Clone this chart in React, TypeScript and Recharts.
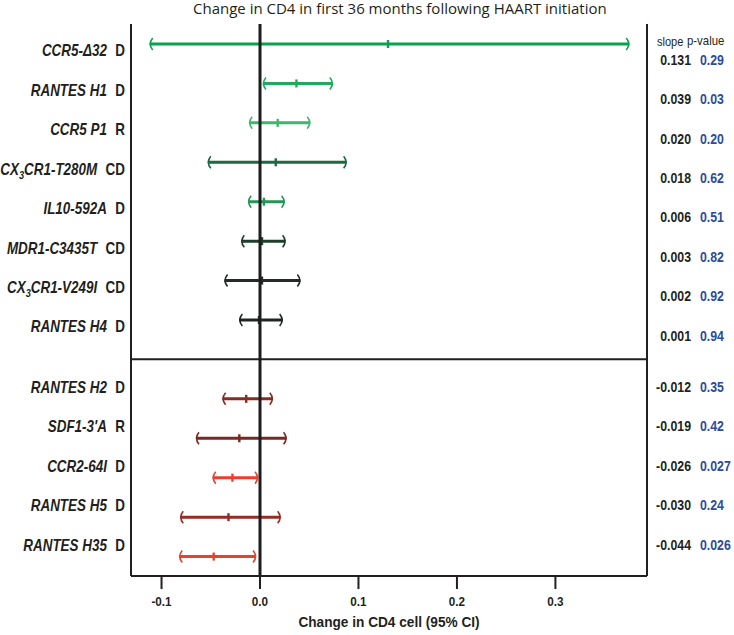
import React from "react";
import { ComposedChart, Bar, XAxis, YAxis, ReferenceLine } from "recharts";

// gene / model rows, top to bottom (first 8 are positive slopes, then negative)
const genes = [
  "CCR5-Δ32", "RANTES H1", "CCR5 P1", "CX3CR1-T280M", "IL10-592A", "MDR1-C3435T", "CX3CR1-V249I", "RANTES H4",
  "RANTES H2", "SDF1-3'A", "CCR2-64I", "RANTES H5", "RANTES H35",
];
const models = ["D", "D", "R", "CD", "D", "CD", "CD", "D", "D", "R", "D", "D", "D"];
const ciLow = [-0.112, 0.003, -0.011, -0.053, -0.012, -0.019, -0.036, -0.021, -0.038, -0.065, -0.048, -0.081, -0.082];
const ciHigh = [0.375, 0.074, 0.051, 0.088, 0.025, 0.026, 0.041, 0.023, 0.013, 0.027, -0.002, 0.021, -0.004];
const estimates = [0.130, 0.037, 0.018, 0.016, 0.004, 0.002, 0.002, -0.001, -0.014, -0.021, -0.028, -0.032, -0.047];
const slopes = ["0.131", "0.039", "0.020", "0.018", "0.006", "0.003", "0.002", "0.001", "-0.012", "-0.019", "-0.026", "-0.030", "-0.044"];
const pValues = ["0.29", "0.03", "0.20", "0.62", "0.51", "0.82", "0.92", "0.94", "0.35", "0.42", "0.027", "0.24", "0.026"];
const colors = [
  "#0aa24f", "#1fab5c", "#3bb86b", "#1b6b3e", "#27945a", "#1b3f2c", "#23292c", "#202427",
  "#8a2a22", "#7c2720", "#e8402d", "#952d24", "#e5432f",
];
const positiveRows = 8;
const xTicks = [-0.1, 0, 0.1, 0.2, 0.3];
const GAP = "gap";

const rows: any[] = [];
genes.forEach((g, i) => {
  if (i === positiveRows) rows.push({ name: GAP });
  rows.push({
    name: g,
    gene: g,
    model: models[i],
    ci: [ciLow[i], ciHigh[i]],
    est: estimates[i],
    slope: slopes[i],
    p: pValues[i],
    color: colors[i],
    top: i < positiveRows,
  });
});
const byName: Record<string, any> = {};
rows.forEach((r) => (byName[r.name] = r));

// no condensed font installed, so bold Liberation Sans is squeezed horizontally
const sans = "'Liberation Sans', Arial, sans-serif";
const ink = "#231f20";

function geneText(g: string) {
  const m = g.match(/^CX3(.*)$/);
  if (!m) return <tspan fontStyle="italic">{g}</tspan>;
  return (
    <tspan fontStyle="italic">
      CX<tspan dy={4} fontSize={11}>3</tspan>
      <tspan dy={-4}>{m[1]}</tspan>
    </tspan>
  );
}

const GeneTick = (props: any) => {
  const { x, y, payload } = props;
  const r = byName[payload.value];
  if (!r || !r.gene) return null;
  const cy = y + (r.top ? 7 : -11.5);
  return (
    <text
      transform={`translate(${x},${cy}) scale(0.84,1)`}
      dy="0.36em"
      textAnchor="end"
      fontFamily={sans}
      fontWeight="bold"
      fontSize={16}
      fill={ink}
    >
      {geneText(r.gene)}
      <tspan dx={10}>{r.model}</tspan>
    </text>
  );
};

const StatTick = (props: any) => {
  const { x, y, payload, index } = props;
  const r = byName[payload.value];
  if (!r || !r.gene) return null;
  const cy = y + (r.top ? 16 : -11.6);
  return (
    <g>
      {index === 0 && (
        <g fontFamily={sans} fontSize={12} fill={ink}>
          <text transform={`translate(${x + 10},${y - 2}) scale(0.92,1)`} dy="0.36em">slope</text>
          <text transform={`translate(${x + 40},${y - 3}) scale(0.95,1)`} dy="0.36em">p-value</text>
        </g>
      )}
      <text
        transform={`translate(${x + 44},${cy}) scale(0.88,1)`}
        dy="0.36em"
        textAnchor="end"
        fontFamily={sans}
        fontWeight="bold"
        fontSize={14}
        fill={ink}
      >
        {r.slope}
      </text>
      <text
        transform={`translate(${x + 53},${cy}) scale(0.88,1)`}
        dy="0.36em"
        fontFamily={sans}
        fontWeight="bold"
        fontSize={14}
        fill="#2c4b9c"
      >
        {r.p}
      </text>
    </g>
  );
};

const XTick = (props: any) => {
  const { x, y, payload } = props;
  return (
    <text
      transform={`translate(${x},${y}) scale(0.9,1)`}
      dy="0.71em"
      textAnchor="middle"
      fontFamily={sans}
      fontWeight="bold"
      fontSize={13}
      fill={ink}
    >
      {Number(payload.value).toFixed(1)}
    </text>
  );
};

const XTitle = (props: any) => {
  const vb = props.viewBox;
  return (
    <text
      transform={`translate(${vb.x + vb.width / 2},${vb.y + vb.height - 8}) scale(0.91,1)`}
      textAnchor="middle"
      fontFamily={sans}
      fontWeight="bold"
      fontSize={15}
      fill={ink}
    >
      Change in CD4 cell (95% CI)
    </text>
  );
};

const IntervalShape = (props: any) => {
  const { x, y, width, height, payload } = props;
  if (!payload || !payload.ci) return null;
  const [lo, hi] = payload.ci;
  const c = payload.color;
  const cy = y + height / 2;
  const x2 = x + width;
  const cx = x + ((payload.est - lo) / (hi - lo)) * width;
  return (
    <g>
      <line x1={x} x2={x2} y1={cy} y2={cy} stroke={c} strokeWidth={3} />
      <path d={`M${x + 3},${cy - 6} Q${x - 2},${cy} ${x + 3},${cy + 6}`} stroke={c} strokeWidth={1.6} fill="none" />
      <path d={`M${x2 - 3},${cy - 6} Q${x2 + 2},${cy} ${x2 - 3},${cy + 6}`} stroke={c} strokeWidth={1.6} fill="none" />
      <line x1={cx} x2={cx} y1={cy - 4} y2={cy + 4} stroke={c} strokeWidth={2.4} />
    </g>
  );
};

export default function App() {
  return (
    <div style={{ position: "absolute", left: 0, top: 0, width: 734, height: 635, background: "#fff" }}>
      <div
        style={{
          position: "absolute",
          left: 193,
          top: -2,
          fontFamily: "'Open Sans', sans-serif",
          fontSize: 15,
          lineHeight: "20px",
          whiteSpace: "nowrap",
          color: ink,
        }}
      >
        Change in CD4 in first 36 months following HAART initiation
      </div>
      <ComposedChart
        width={734}
        height={635}
        data={rows}
        layout="vertical"
        margin={{ top: 24, right: 0, left: 0, bottom: 0 }}
      >
        <XAxis
          type="number"
          domain={[-0.131, 0.393]}
          allowDataOverflow
          ticks={xTicks}
          height={59}
          tickSize={13}
          tickMargin={8}
          axisLine={{ stroke: ink, strokeWidth: 2 }}
          tickLine={{ stroke: ink, strokeWidth: 2 }}
          tick={<XTick />}
          label={<XTitle />}
        />
        <XAxis
          xAxisId="top"
          orientation="top"
          type="number"
          domain={[-0.131, 0.393]}
          allowDataOverflow
          height={0}
          tick={false}
          tickLine={false}
          axisLine={{ stroke: ink, strokeWidth: 2 }}
        />
        <YAxis
          type="category"
          dataKey="name"
          width={131}
          tickSize={0}
          tickMargin={6}
          interval={0}
          axisLine={{ stroke: ink, strokeWidth: 2 }}
          tickLine={false}
          tick={<GeneTick />}
        />
        <YAxis
          yAxisId="right"
          orientation="right"
          type="category"
          dataKey="name"
          width={87}
          tickSize={0}
          tickMargin={0}
          interval={0}
          axisLine={{ stroke: ink, strokeWidth: 2 }}
          tickLine={false}
          tick={<StatTick />}
        />
        <ReferenceLine y={GAP} stroke={ink} strokeWidth={2} />
        <ReferenceLine x={0} stroke="#1d1d1f" strokeWidth={3} />
        <Bar dataKey="ci" barSize={12} isAnimationActive={false} shape={<IntervalShape />} />
      </ComposedChart>
    </div>
  );
}
